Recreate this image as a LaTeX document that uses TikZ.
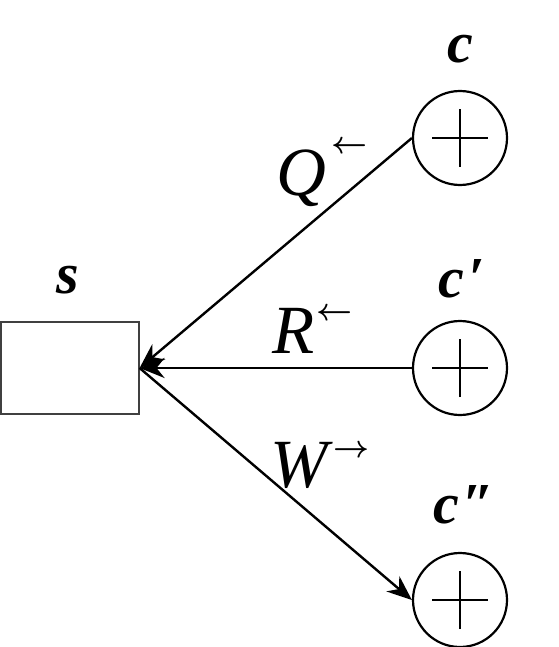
\documentclass[tikz,border=0pt]{standalone}
\usepackage{fontspec}
\setmainfont{Liberation Serif}
\usetikzlibrary{arrows.meta}
\newcommand{\lbl}[1]{{\fontsize{58}{58}\selectfont\bfseries\itshape #1}}
\newcommand{\biglet}[1]{{\fontsize{69}{69}\selectfont\itshape #1}}
\newcommand{\sarrow}[2]{\raisebox{#1}{\resizebox{36pt}{!}{\boldmath$#2$}}}
\begin{document}
\begin{tikzpicture}[x=1pt,y=-1pt,
  sumnode/.style={circle,draw,line width=2.2pt,minimum size=94pt,inner sep=0pt,
    path picture={\draw[line width=2pt] ([xshift=-28pt]path picture bounding box.center) -- ([xshift=28pt]path picture bounding box.center);
                  \draw[line width=2pt] ([yshift=-29pt]path picture bounding box.center) -- ([yshift=29pt]path picture bounding box.center);}},
  boxnode/.style={draw=black!75,line width=1.2pt,minimum width=138pt,minimum height=92pt,inner sep=0pt},
  conn/.style={line width=2.4pt},
  tip/.style={-{Stealth[length=25pt,width=20pt]}},
  txt/.style={inner sep=0pt,anchor=base}]
\useasboundingbox (0,0) rectangle (558,647);
\node[boxnode] (s) at (70,368) {};
\node[sumnode] (c) at (460,138) {};
\node[sumnode] (c1) at (460,368) {};
\node[sumnode] (c2) at (460,600) {};
\node[txt] (ls) at (68,293) {\lbl{s}};
\node[txt] (lc) at (460,63) {\lbl{c}};
\node[txt] (lc1) at (462,297) {\lbl{c\kern4pt′}};
\node[txt] (lc2) at (464,523) {\lbl{c\kern4pt″}};
\draw[conn,tip] (c.west) -- (s.east);
\draw[conn,tip] (c1.west) -- (s.east);
\draw[conn,tip] (s.east) -- (c2.west);
\node[txt,anchor=base west] (q) at (276,195) {\biglet{Q}\hspace{5pt}\sarrow{42pt}{\leftarrow}};
\node[txt,anchor=base west] (r) at (272,353) {\biglet{R}\hspace{2pt}\sarrow{33pt}{\leftarrow}};
\node[txt,anchor=base west] (w) at (270,487) {\biglet{W}\hspace{6pt}\sarrow{30pt}{\rightarrow}};
\end{tikzpicture}
\end{document}
